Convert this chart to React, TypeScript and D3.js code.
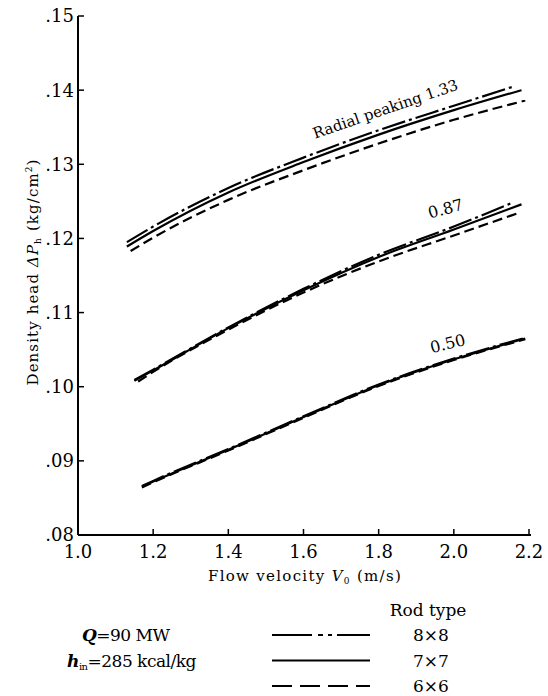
import React from "react";
import * as d3 from "d3";

// ---- data ----
const xTicks = [1.0, 1.2, 1.4, 1.6, 1.8, 2.0, 2.2];
const yTicks = [0.08, 0.09, 0.1, 0.11, 0.12, 0.13, 0.14, 0.15];

// Radial peaking 1.33
const v133_8 = [1.13, 1.2, 1.4, 1.6, 1.8, 2.0, 2.16];
const p133_8 = [0.1195, 0.1216, 0.1268, 0.1309, 0.1346, 0.1379, 0.1405];
const v133_7 = [1.13, 1.2, 1.4, 1.6, 1.8, 2.0, 2.18];
const p133_7 = [0.1189, 0.1210, 0.1262, 0.1303, 0.1340, 0.1373, 0.1400];
const v133_6 = [1.14, 1.2, 1.4, 1.6, 1.8, 2.0, 2.19];
const p133_6 = [0.1183, 0.1201, 0.1252, 0.1292, 0.1328, 0.1360, 0.1386];

// Radial peaking 0.87
const v087_8 = [1.15, 1.2, 1.4, 1.6, 1.8, 2.0, 2.16];
const p087_8 = [0.1009, 0.1023, 0.1080, 0.1132, 0.1178, 0.1216, 0.1249];
const v087_7 = [1.15, 1.2, 1.4, 1.6, 1.8, 2.0, 2.18];
const p087_7 = [0.1008, 0.1022, 0.1079, 0.1130, 0.1175, 0.1212, 0.1246];
const v087_6 = [1.16, 1.2, 1.4, 1.6, 1.8, 2.0, 2.17];
const p087_6 = [0.1007, 0.1020, 0.1077, 0.1127, 0.1169, 0.1204, 0.1234];

// Radial peaking 0.50
const v050_8 = [1.17, 1.2, 1.4, 1.6, 1.8, 2.0, 2.19];
const p050_8 = [0.0866, 0.0873, 0.0916, 0.0960, 0.1003, 0.1038, 0.1066];
const v050_7 = [1.17, 1.2, 1.4, 1.6, 1.8, 2.0, 2.19];
const p050_7 = [0.0865, 0.0872, 0.0915, 0.0959, 0.1002, 0.1037, 0.1065];
const v050_6 = [1.17, 1.2, 1.4, 1.6, 1.8, 2.0, 2.19];
const p050_6 = [0.0864, 0.0871, 0.0914, 0.0958, 0.1001, 0.1036, 0.1064];

const rodTypes = ["8×8", "7×7", "6×6"];
const peakingLabels = ["Radial peaking 1.33", "0.87", "0.50"];

const FONT = "'DejaVu Serif', 'Liberation Serif', serif";

export default function App() {
  const x = d3.scaleLinear().domain([1.0, 2.2]).range([78, 529]);
  const y = d3.scaleLinear().domain([0.08, 0.15]).range([535, 16]);
  const line = d3
    .line<[number, number]>()
    .x((d) => x(d[0]))
    .y((d) => y(d[1]))
    .curve(d3.curveMonotoneX);

  const dashFor = ["24,4,3,4", "", "10,5"];
  const series = [
    { v: v133_8, p: p133_8, t: 0 },
    { v: v133_7, p: p133_7, t: 1 },
    { v: v133_6, p: p133_6, t: 2 },
    { v: v087_8, p: p087_8, t: 0 },
    { v: v087_7, p: p087_7, t: 1 },
    { v: v087_6, p: p087_6, t: 2 },
    { v: v050_8, p: p050_8, t: 0 },
    { v: v050_7, p: p050_7, t: 1 },
    { v: v050_6, p: p050_6, t: 2 },
  ];

  const legendDash = ["40,6,5,5,4,5,40", "", "20,8"];

  return (
    <svg
      width={548}
      height={696}
      style={{ position: "absolute", left: 0, top: 0, background: "#fff" }}
      fontFamily={FONT}
    >
      <rect x={0} y={0} width={548} height={696} fill="#fff" />
      {/* axes */}
      <line x1={x(1.0)} x2={x(1.0)} y1={y(0.15)} y2={y(0.08)} stroke="#000" strokeWidth={2} />
      <line x1={x(1.0)} x2={x(2.2) + 2} y1={y(0.08)} y2={y(0.08)} stroke="#000" strokeWidth={2} />
      {yTicks.map((t) => (
        <g key={"y" + t}>
          {t > 0.08 && (
            <line x1={x(1.0)} x2={x(1.0) + 6} y1={y(t)} y2={y(t)} stroke="#000" strokeWidth={1.5} />
          )}
          <text
            x={x(1.0) - 4}
            y={y(t)}
            dy="0.36em"
            textAnchor="end"
            fontSize={18}
            fill="#000"
          >
            {"." + d3.format(".2f")(t).split(".")[1]}
          </text>
        </g>
      ))}
      {xTicks.map((t) => (
        <g key={"x" + t}>
          {t > 1.0 && (
            <line x1={x(t)} x2={x(t)} y1={y(0.08)} y2={y(0.08) - 6} stroke="#000" strokeWidth={1.5} />
          )}
          <text x={x(t)} y={y(0.08) + 23} textAnchor="middle" fontSize={18} fill="#000">
            {d3.format(".1f")(t)}
          </text>
        </g>
      ))}
      {/* axis titles */}
      <text x={305} y={581} textAnchor="middle" fontSize={15} fill="#000" letterSpacing={1.3}>
        Flow velocity <tspan fontStyle="italic">V</tspan>
        <tspan fontSize={9} dy={3}>0</tspan>
        <tspan dy={-3}> (m/s)</tspan>
      </text>
      <text
        transform="translate(38,272) rotate(-90)"
        textAnchor="middle"
        fontSize={15}
        fill="#000"
        letterSpacing={1.1}
      >
        Density head <tspan fontStyle="italic">ΔP</tspan>
        <tspan fontSize={9} dy={3}>h</tspan>
        <tspan dy={-3}> (kg/cm</tspan>
        <tspan fontSize={9} dy={-6}>2</tspan>
        <tspan dy={6}>)</tspan>
      </text>

      {/* curves */}
      {series.map((s, i) => (
        <path
          key={i}
          d={line(s.v.map((v, j) => [v, s.p[j]] as [number, number])) || ""}
          fill="none"
          stroke="#000"
          strokeWidth={2.2}
          strokeDasharray={dashFor[s.t] || undefined}
        />
      ))}

      {/* curve labels */}
      <text transform="translate(387,114) rotate(-19)" textAnchor="middle" fontSize={15} fill="#000">
        {peakingLabels[0]}
      </text>
      <text transform="translate(447,214) rotate(-15)" textAnchor="middle" fontSize={16} fill="#000">
        {peakingLabels[1]}
      </text>
      <text transform="translate(449,349) rotate(-14)" textAnchor="middle" fontSize={16} fill="#000">
        {peakingLabels[2]}
      </text>

      {/* legend */}
      <text x={428} y={616} textAnchor="middle" fontSize={17} fill="#000">Rod type</text>
      <text x={82} y={641} fontSize={17} fill="#000" letterSpacing={-0.5}>
        <tspan fontStyle="italic" fontWeight="bold">Q</tspan>=90 MW
      </text>
      <text x={67} y={667} fontSize={17} fill="#000" letterSpacing={-0.5}>
        <tspan fontStyle="italic" fontWeight="bold">h</tspan>
        <tspan fontSize={10} dy={3}>in</tspan>
        <tspan dy={-3}>=285 kcal/kg</tspan>
      </text>
      {rodTypes.map((r, i) => (
        <g key={r}>
          <line
            x1={272}
            x2={370}
            y1={635 + i * 25.5}
            y2={635 + i * 25.5}
            stroke="#000"
            strokeWidth={2}
            strokeDasharray={legendDash[i] || undefined}
          />
          <text x={431} y={641 + i * 25.5} textAnchor="middle" fontSize={17} fill="#000">
            {r}
          </text>
        </g>
      ))}
    </svg>
  );
}
